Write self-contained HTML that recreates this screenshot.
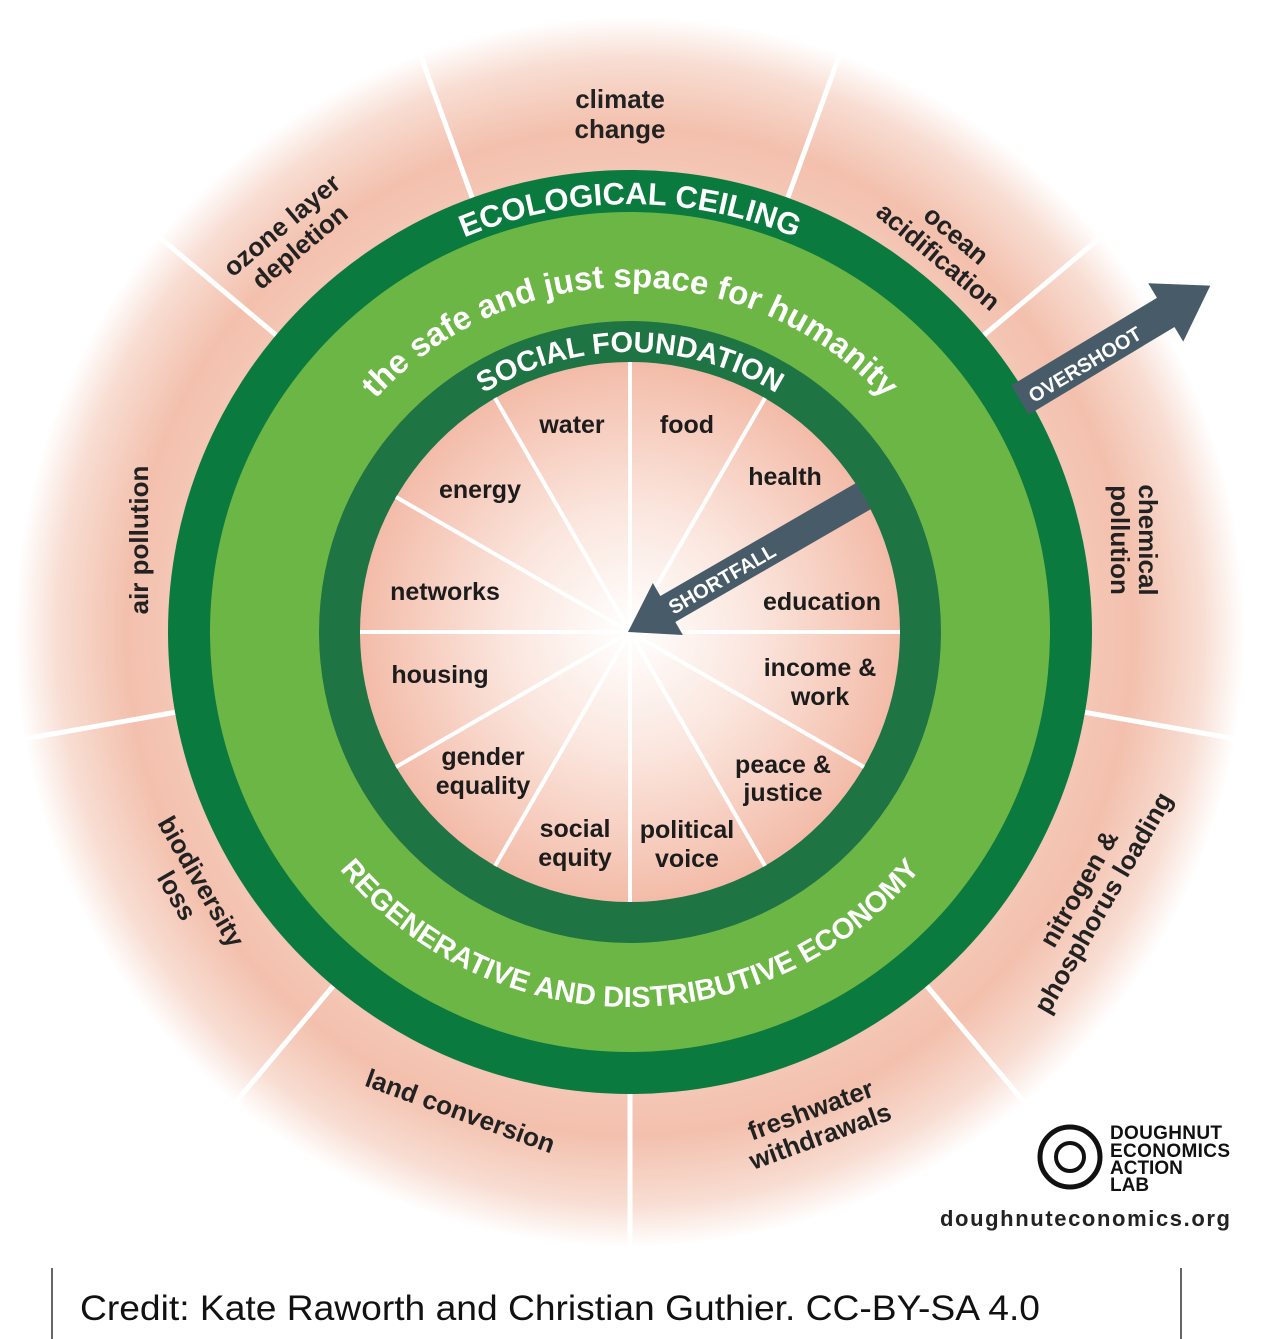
<!DOCTYPE html>
<html><head><meta charset="utf-8"><style>
html,body{margin:0;padding:0;background:#fff}
svg{display:block}
text{font-family:"Liberation Sans",sans-serif}
</style></head><body>
<svg width="1265" height="1339" viewBox="0 0 1265 1339" xmlns="http://www.w3.org/2000/svg">
<defs>
<radialGradient id="outer" cx="630" cy="632" r="615" gradientUnits="userSpaceOnUse">
<stop offset="0.7" stop-color="#f6cbbb"/>
<stop offset="0.82" stop-color="#f3c0ad"/>
<stop offset="0.93" stop-color="#f8ddd2"/>
<stop offset="1" stop-color="#ffffff"/>
</radialGradient>
<radialGradient id="inner" cx="630" cy="632" r="272" gradientUnits="userSpaceOnUse">
<stop offset="0" stop-color="#ffffff"/>
<stop offset="0.45" stop-color="#fbe6de"/>
<stop offset="1" stop-color="#f3bba8"/>
</radialGradient>
<path id="pEco" d="M 202 632 A 428 428 0 0 1 1058 632"/>
<path id="pSafe" d="M 285 632 A 345 345 0 0 1 975 632"/>
<path id="pSoc" d="M 350 632 A 280 280 0 0 1 910 632"/>
<path id="pReg" d="M 255 632 A 375 375 0 0 0 1005 632"/>
</defs>
<rect width="1265" height="1339" fill="#fff"/>
<circle cx="630" cy="632" r="615" fill="url(#outer)"/>
<g stroke="#fff" stroke-width="5">
<line x1="630" y1="632" x2="420" y2="54"/>
<line x1="630" y1="632" x2="840" y2="54"/>
<line x1="630" y1="632" x2="1101" y2="237"/>
<line x1="630" y1="632" x2="1236" y2="739"/>
<line x1="630" y1="632" x2="1025" y2="1103"/>
<line x1="630" y1="632" x2="630" y2="1247"/>
<line x1="630" y1="632" x2="235" y2="1103"/>
<line x1="630" y1="632" x2="24" y2="739"/>
<line x1="630" y1="632" x2="159" y2="237"/>
</g>
<circle cx="630" cy="632" r="462" fill="#0b7a3e"/>
<circle cx="630" cy="632" r="420" fill="#6cb645"/>
<circle cx="630" cy="632" r="311" fill="#1f7444"/>
<circle cx="630" cy="632" r="270" fill="url(#inner)"/>
<g stroke="#fff" stroke-width="4">
<line x1="630" y1="632" x2="630" y2="362"/>
<line x1="630" y1="632" x2="765" y2="398"/>
<line x1="630" y1="632" x2="864" y2="497"/>
<line x1="630" y1="632" x2="900" y2="632"/>
<line x1="630" y1="632" x2="864" y2="767"/>
<line x1="630" y1="632" x2="765" y2="866"/>
<line x1="630" y1="632" x2="630" y2="902"/>
<line x1="630" y1="632" x2="495" y2="866"/>
<line x1="630" y1="632" x2="396" y2="767"/>
<line x1="630" y1="632" x2="360" y2="632"/>
<line x1="630" y1="632" x2="396" y2="497"/>
<line x1="630" y1="632" x2="495" y2="398"/>
</g>
<g fill="#fff" font-weight="bold">
<text font-size="31"><textPath href="#pEco" startOffset="50%" text-anchor="middle">ECOLOGICAL CEILING</textPath></text>
<text font-size="33"><textPath href="#pSafe" startOffset="50%" text-anchor="middle">the safe and just space for humanity</textPath></text>
<text font-size="29"><textPath href="#pSoc" startOffset="50%" text-anchor="middle">SOCIAL FOUNDATION</textPath></text>
<text font-size="29"><textPath href="#pReg" startOffset="50%" text-anchor="middle">REGENERATIVE AND DISTRIBUTIVE ECONOMY</textPath></text>
</g>
<g transform="translate(1020,400) rotate(-31)">
<rect x="0" y="-17" width="175" height="34" fill="#475c68"/>
<polygon points="170,-34 222,0 170,34" fill="#475c68"/>
<text x="10" y="10" font-size="20" font-weight="bold" fill="#fff">OVERSHOOT</text>
</g>
<g transform="translate(628,632) rotate(-30)">
<rect x="42" y="-15" width="230" height="30" fill="#475c68"/>
<polygon points="0,0 46,-30 46,30" fill="#475c68"/>
<text x="48" y="8" font-size="20" font-weight="bold" fill="#fff">SHORTFALL</text>
</g>
<g fill="#1c1c1c" font-size="25" font-weight="bold" text-anchor="middle">
<text x="572" y="433">water</text>
<text x="687" y="433">food</text>
<text x="785" y="485">health</text>
<text x="480" y="498">energy</text>
<text x="445" y="600">networks</text>
<text x="822" y="610">education</text>
<text x="440" y="683">housing</text>
<text x="820" y="676">income &amp;</text>
<text x="820" y="705">work</text>
<text x="483" y="765">gender</text>
<text x="483" y="794">equality</text>
<text x="783" y="773">peace &amp;</text>
<text x="783" y="801">justice</text>
<text x="575" y="837">social</text>
<text x="575" y="866">equity</text>
<text x="687" y="838">political</text>
<text x="687" y="867">voice</text>
</g>
<g fill="#222" font-size="26" font-weight="bold" text-anchor="middle">
<text x="620" y="108">climate</text>
<text x="620" y="138">change</text>
<g transform="translate(948,245) rotate(40)"><text x="0" y="-4">ocean</text><text x="0" y="24">acidification</text></g>
<g transform="translate(1135,540) rotate(90)"><text x="0" y="-4">chemical</text><text x="0" y="24">pollution</text></g>
<g transform="translate(1090,895) rotate(-60)"><text x="0" y="-4">nitrogen &amp;</text><text x="0" y="24">phosphorus loading</text></g>
<g transform="translate(815,1122) rotate(-20)"><text x="0" y="-4">freshwater</text><text x="0" y="24">withdrawals</text></g>
<g transform="translate(460,1112) rotate(20)"><text x="0" y="8">land conversion</text></g>
<g transform="translate(190,888) rotate(60)"><text x="0" y="-4">biodiversity</text><text x="0" y="24">loss</text></g>
<g transform="translate(140,540) rotate(-90)"><text x="0" y="8">air pollution</text></g>
<g transform="translate(290,235) rotate(-40)"><text x="0" y="-4">ozone layer</text><text x="0" y="24">depletion</text></g>
</g>
<circle cx="1070" cy="1157" r="30" fill="none" stroke="#111" stroke-width="5"/>
<circle cx="1070" cy="1157" r="14" fill="none" stroke="#111" stroke-width="4"/>
<g fill="#111" font-size="19" font-weight="bold">
<text x="1110" y="1139" textLength="112">DOUGHNUT</text>
<text x="1110" y="1157" textLength="120">ECONOMICS</text>
<text x="1110" y="1174">ACTION</text>
<text x="1110" y="1191">LAB</text>
</g>
<text x="1085" y="1226" font-size="22" font-weight="bold" fill="#222" text-anchor="middle" textLength="290">doughnuteconomics.org</text>
<line x1="52" y1="1268" x2="52" y2="1339" stroke="#333" stroke-width="1.5"/>
<line x1="1181" y1="1268" x2="1181" y2="1339" stroke="#333" stroke-width="1.5"/>
<text x="80" y="1320" font-size="35" fill="#111" textLength="960" lengthAdjust="spacingAndGlyphs">Credit: Kate Raworth and Christian Guthier. CC-BY-SA 4.0</text>
</svg>
</body></html>
